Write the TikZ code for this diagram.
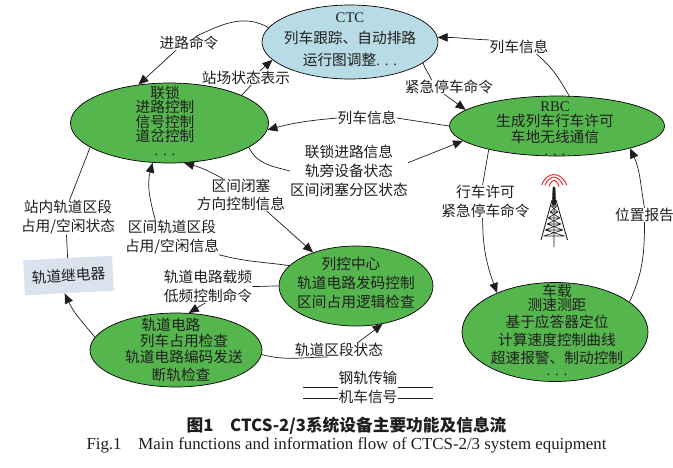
\documentclass[tikz,border=0pt]{standalone}
\usepackage{fontspec}
\setmainfont{Liberation Serif}
\newfontfamily\cjk{Noto Sans CJK SC}
\usetikzlibrary{shapes.geometric,arrows.meta}
\definecolor{nodegreen}{RGB}{86,182,78}
\definecolor{ctcblue}{RGB}{184,220,230}
\definecolor{relayblue}{RGB}{218,226,238}
\definecolor{ink}{RGB}{30,30,30}
\definecolor{wave}{RGB}{225,50,50}
\newcommand{\fs}[1]{\cjk\fontsize{14.7}{#1}\selectfont}
\newcommand{\lat}[1]{{\rmfamily #1}}
\tikzset{
  x=1pt,y=-1pt,
  cn/.style={font=\fs{15},align=center,inner sep=0pt,text=ink},
  bub/.style={draw=black,line width=.7pt,ellipse,inner sep=0pt,fill=nodegreen},
  flow/.style={draw=ink,line width=.7pt},
  tip/.style={flow,-{Triangle[length=10pt,width=8.5pt]}},
  tw/.style={draw=ink,line width=.6pt},
}
\begin{document}
\begin{tikzpicture}
\useasboundingbox (0,0) rectangle (673,467);
% main nodes
\node[bub,fill=ctcblue,minimum width=176pt,minimum height=74pt,
  label={[cn,font=\fs{21.5},yshift=2.5pt]center:{\lat{CTC}\\列车跟踪、自动排路\\运行图调整\lat{. . .}}}] (ctc) at (350,42) {};
\node[bub,minimum width=198pt,minimum height=80pt,
  label={[cn,font=\fs{14.4},xshift=-4.5pt,yshift=2pt]center:{联锁\\进路控制\\信号控制\\道岔控制\\\lat{. . .}}}] (lock) at (169.5,123) {};
\node[bub,minimum width=215pt,minimum height=60pt,
  label={[cn,font=\fs{15.5},xshift=-2pt,yshift=-2.5pt]center:{\lat{RBC}\\生成列车行车许可\\车地无线通信\\[-2.5pt]\lat{. . .}}}] (rbc) at (557,126) {};
\node[bub,minimum width=154pt,minimum height=80pt,
  label={[cn,font=\fs{19},yshift=3.5pt]center:{列控中心\hspace*{10pt}\\轨道电路发码控制\\区间占用逻辑检查}}] (ctrl) at (356,286) {};
\node[bub,minimum width=186pt,minimum height=99pt,
  label={[cn,font=\fs{14},xshift=2pt,yshift=2.5pt]center:{车载\\测速测距\\[3pt]基于应答器定位\\[4pt]计算速度控制曲线\\[4pt]超速报警、制动控制\\[-2pt]\lat{. . .}}}] (onb) at (555,332) {};
\node[bub,minimum width=172pt,minimum height=74pt,
  label={[cn,font=\fs{16},xshift=8pt]center:{轨道电路\hspace*{26pt}\\列车占用检查\\轨道电路编码发送\\[2pt]断轨检查\hspace*{6pt}}}] (tc) at (176,350) {};
\node[cn,fill=relayblue,minimum width=89pt,minimum height=35pt,rotate=3] (relay) at (68.5,275.5) {轨道继电器};
% labels
\node[cn] (l1) at (189,43) {进路命令};
\node[cn] (l2) at (246,78) {站场状态表示};
\node[cn] (l3) at (519,47) {列车信息};
\node[cn] (l4) at (449,87) {紧急停车命令};
\node[cn] (l5) at (367,118) {列车信息};
\node[cn,font=\fs{19}] (l6) at (349,171) {联锁进路信息\\轨旁设备状态\\区间闭塞分区状态};
\node[cn,font=\fs{18}] (l7) at (241,195) {区间闭塞\\方向控制信息};
\node[cn,font=\fs{19}] (l8) at (172,237.5) {区间轨道区段\\占用/空闲信息};
\node[cn,font=\fs{19}] (l9) at (68,217.5) {站内轨道区段\\占用/空闲状态};
\node[cn,font=\fs{19}] (l11) at (208,286.5) {轨道电路载频\\低频控制命令};
\node[cn] (l12) at (339,350) {轨道区段状态};
\node[cn,font=\fs{19}] (l13) at (485.5,201.5) {行车许可\\紧急停车命令};
\node[cn] (l14) at (644.5,215) {位置报告};
\node[cn] (leg1) at (368,378) {钢轨传输};
\node[cn] (leg2) at (368,397) {机车信号};
% connectors
\draw[flow] (ctc.170) to[out=150,in=25] (l1.42);
\draw[tip] (l1.209) -- (lock.129);
\draw[flow] (lock.21) -- (l2.-53);
\draw[tip] (l2.27) -- (ctc.193);
\draw[flow] (rbc.68) to[out=120,in=-40] (l3.-22);
\draw[tip] (l3.north west) to[out=178,in=0] (ctc.3);
\draw[flow] (ctc.-16) to[out=-75,in=110] (l4.158);
\draw[tip] (l4.236) -- (rbc.170);
\draw[flow] (rbc.180) -- (l5.east);
\draw[tip] (l5.west) to[out=185,in=15] (lock.-4);
\draw[flow] (lock.-17) to[out=-65,in=165] (l6.west);
\draw[tip] (l6.8) -- (rbc.189);
\draw[tip] (l7.138) to[out=150,in=-15] (lock.-70);
\draw[tip] (l7.-32) -- (ctrl.142);
\draw[flow] (ctrl.163) to[out=172,in=-15] (l8.south east);
\draw[tip] (l8.134) to[out=105,in=-105] (lock.-113);
\draw[flow] (lock.197) -- (l9.85);
\draw[flow] (l9.-95) -- (relay.north);
\draw[tip] (tc.171) to[out=130,in=-65] (relay.255);
\draw[flow] (ctrl.180) to[out=180,in=0] (l11.east);
\draw[tip] (l11.-100) -- (tc.71);
\draw[flow] (tc.-3) to[out=-15,in=180] (l12.212);
\draw[tip] (l12.21) -- (ctrl.-55);
\draw[flow] (rbc.199) -- (l13.100);
\draw[tip] (l13.-100) to[out=-90,in=110] (onb.146);
\draw[flow] (onb.22) to[out=65,in=-90] (l14.south);
\draw[tip] (l14.north) to[out=100,in=-65] (rbc.-17);
% legend rules
\coordinate (a1) at (303,387); \coordinate (a2) at (433,387);
\coordinate (b1) at (303,398); \coordinate (b2) at (433,398);
\draw[flow] (a1) -- (a1 -| leg1.west) (a2 -| leg1.east) -- (a2);
\draw[flow] (b1) -- (b1 -| leg2.west) (b2 -| leg2.east) -- (b2);
% tower
\draw[wave,line width=1pt] (541.7,185) .. controls (547,171) and (561,171) .. (566.7,185);
\draw[wave,line width=1pt] (545,185) .. controls (550,174.5) and (558,174.5) .. (563,185);
\draw[wave,line width=1pt] (549,186.6) .. controls (552,178) and (556,178) .. (559,186.6);
\draw[ink,fill=ink,line width=.3pt] (553,187) -- (555,187) -- (556,205) -- (552,205) -- cycle;
\draw[tw,line width=.9pt] (552,200) -- (541,240) (556,200) -- (567.5,240) (554,190) -- (554,247);
\draw[tw] (551,206)--(557,206) (550,212)--(558,212) (548,218)--(560,218) (547,224)--(561,224) (545,230)--(563,230) (543.5,236)--(564.5,236)
 (551,206)--(558,212) (557,206)--(550,212) (550,212)--(560,218) (558,212)--(548,218) (548,218)--(561,224) (560,218)--(547,224) (547,224)--(563,230) (561,224)--(545,230) (545,230)--(564.5,236) (563,230)--(543.5,236);
% captions
\node[inner sep=0pt,font=\cjk\bfseries\fontsize{16.7}{18}\selectfont,text=ink] (cap1) at (346.5,426) {图1\hspace{1em}CTCS-2/3系统设备主要功能及信息流};
\node[inner sep=0pt,font=\fontsize{16.85}{18}\selectfont,text=ink] (cap2) at (346.5,445) {Fig.1\hspace{1em}Main functions and information flow of CTCS-2/3 system equipment};
\end{tikzpicture}
\end{document}
